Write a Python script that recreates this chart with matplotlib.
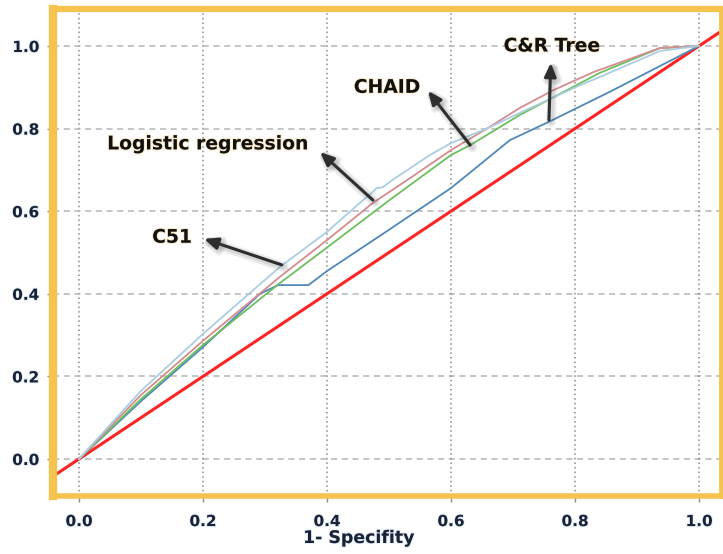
import matplotlib
matplotlib.use("Agg")
import matplotlib.pyplot as plt
import matplotlib.patheffects as pe

# ---- data ----
x_lr = [0.0, 0.1, 0.2, 0.324, 0.4, 0.453, 0.474, 0.48, 0.49, 0.506, 0.566, 0.6, 0.658, 0.711, 0.808, 0.84, 0.937, 1.0]
y_lr = [0.0, 0.165, 0.303, 0.465, 0.55, 0.62, 0.647, 0.656, 0.658, 0.676, 0.736, 0.765, 0.80, 0.838, 0.905, 0.925, 0.988, 1.0]

x_chaid = [0.0, 0.1, 0.2, 0.324, 0.4, 0.474, 0.534, 0.6, 0.658, 0.711, 0.765, 0.83, 0.937, 1.0]
y_chaid = [0.0, 0.155, 0.286, 0.441, 0.53, 0.62, 0.68, 0.748, 0.80, 0.85, 0.893, 0.937, 0.995, 1.0]

x_c51 = [0.0, 0.1, 0.2, 0.324, 0.4, 0.5, 0.6, 0.631, 0.711, 0.787, 0.84, 0.937, 1.0]
y_c51 = [0.0, 0.145, 0.276, 0.426, 0.512, 0.626, 0.736, 0.76, 0.833, 0.893, 0.935, 0.995, 1.0]

x_crt = [0.0, 0.1, 0.2, 0.292, 0.321, 0.37, 0.4, 0.5, 0.6, 0.695, 0.76, 0.856, 1.0]
y_crt = [0.0, 0.14, 0.271, 0.40, 0.421, 0.421, 0.455, 0.555, 0.656, 0.772, 0.818, 0.889, 1.0]

ticks = [0.0, 0.2, 0.4, 0.6, 0.8, 1.0]
tick_labels = ["0.0", "0.2", "0.4", "0.6", "0.8", "1.0"]

labels = ["C&R Tree", "CHAID", "Logistic regression", "C51"]
label_xy = [(0.763, 1.0), (0.497, 0.90), (0.208, 0.763), (0.15, 0.537)]
arrow_head = [(0.761, 0.959), (0.563, 0.891), (0.389, 0.743), (0.202, 0.533)]
arrow_tail = [(0.758, 0.821), (0.631, 0.760), (0.474, 0.627), (0.327, 0.470)]

# ---- figure ----
fig = plt.figure(figsize=(7.23, 5.54), dpi=100)
L, R, T, B = 53, 720.5, 9, 496
W, H = 723, 554
ax = fig.add_axes([L / W, 1 - B / H, (R - L) / W, (B - T) / H])

ax.set_xlim(-0.0419, 1.0347)
ax.set_ylim(-0.0896, 1.0896)

for v in ticks:
    ax.axvline(v, color="#8a8a8a", lw=1.1, ls=(0, (1, 2)), zorder=1)
    ax.axhline(v, color="#b5b5b5", lw=1.1, ls=(0, (4, 3)), zorder=1)

# diagonal reference
ax.plot([-0.1, 1.1], [-0.1, 1.1], color="#ff2424", lw=2.2, zorder=3)

ax.plot(x_crt, y_crt, color="#4f88b8", lw=1.3, zorder=4)
ax.plot(x_c51, y_c51, color="#6cbf5e", lw=1.3, zorder=4)
ax.plot(x_chaid, y_chaid, color="#d48c8c", lw=1.3, zorder=4)
ax.plot(x_lr, y_lr, color="#aacde2", lw=1.3, zorder=4)

for sp, lw in (("left", 6), ("top", 4.5), ("bottom", 4), ("right", 3.5)):
    ax.spines[sp].set_color("#f6c34f")
    ax.spines[sp].set_linewidth(lw)
    ax.spines[sp].set_zorder(6)

ax.set_xticks(ticks)
ax.set_yticks(ticks)
ax.set_xticklabels(tick_labels)
ax.set_yticklabels(tick_labels)
glow_tick = [pe.withStroke(linewidth=1.5, foreground="#c8dcf0", alpha=0.45)]
for t in ax.get_xticklabels() + ax.get_yticklabels():
    t.set_fontweight("bold")
    t.set_fontsize(11)
    t.set_color("#1a2236")
    t.set_path_effects(glow_tick)
ax.tick_params(axis="both", length=4, width=1, color="#888888")
ax.tick_params(axis="x", pad=9)
ax.tick_params(axis="y", pad=6)

fig.text(359 / W, 1 - 538 / H, "1- Specifity", ha="center", va="center",
         fontsize=12.5, fontweight="bold", color="#1a2236",
         path_effects=glow_tick)

glow_txt = [pe.withStroke(linewidth=1.5, foreground="#f6c46a", alpha=0.35)]
for lab, xy, hd, tl in zip(labels, label_xy, arrow_head, arrow_tail):
    ax.text(xy[0], xy[1], lab, ha="center", va="center", fontsize=13.5,
            fontweight="bold", color="#111111", path_effects=glow_txt, zorder=7)
    ax.annotate("", xy=hd, xytext=tl,
                arrowprops=dict(arrowstyle="-|>,head_length=0.8,head_width=0.35",
                                color="#2e2e2e", lw=2.2, shrinkA=0, shrinkB=0,
                                path_effects=[pe.SimpleLineShadow(offset=(1.5, -1.5), alpha=0.12, shadow_color="#555555", linewidth=7),
                                              pe.SimpleLineShadow(offset=(1.5, -1.5), alpha=0.12, shadow_color="#555555", linewidth=4),
                                              pe.Normal()]),
                zorder=7)

fig.savefig("out.png", dpi=100)
